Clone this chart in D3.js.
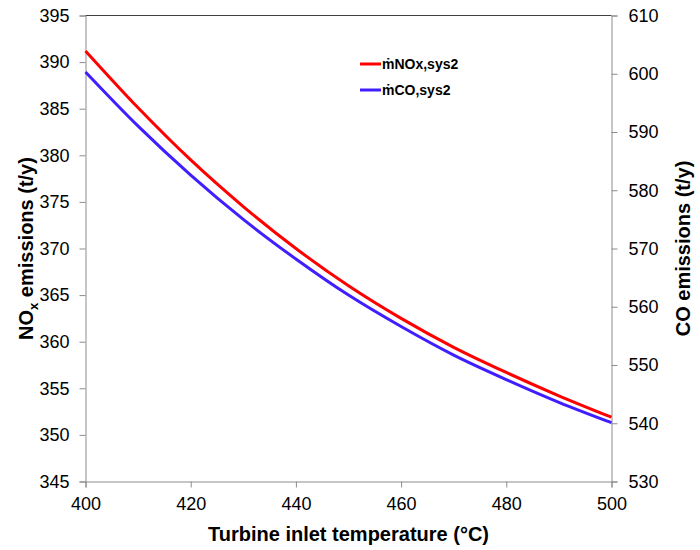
<!DOCTYPE html>
<html>
<head>
<meta charset="utf-8">
<script src="https://d3js.org/d3.v7.min.js"></script>
<style>
body { margin: 0; background: #fff; }
svg text { font-family: "Liberation Sans", Arial, sans-serif; fill: #000; }
</style>
</head>
<body>
<div id="chart"></div>
<script>
// turbine inlet temperature (°C)
var temps = [400, 410, 420, 430, 440, 450, 460, 470, 480, 490, 500];
// NOx emissions, sys2 (t/y) - left axis
var noxValues = [391.2, 385.1, 379.5, 374.5, 370.0, 366.0, 362.5, 359.4, 356.7, 354.2, 351.9];
// CO emissions, sys2 (t/y) - right axis
var coValues = [600.3, 591.0, 582.6, 575.0, 568.2, 562.0, 556.6, 551.7, 547.5, 543.6, 540.1];

var xTicks = [400, 420, 440, 460, 480, 500];
var leftTicks = [345, 350, 355, 360, 365, 370, 375, 380, 385, 390, 395];
var rightTicks = [530, 540, 550, 560, 570, 580, 590, 600, 610];

var width = 700, height = 550;
var margin = {top: 15.5, right: 88.5, bottom: 68.5, left: 85.5};

var svg = d3.select("#chart").append("svg")
    .attr("width", width)
    .attr("height", height);

var x = d3.scaleLinear().domain([400, 500]).range([margin.left, width - margin.right]);
var yL = d3.scaleLinear().domain([345, 395]).range([height - margin.bottom, margin.top]);
var yR = d3.scaleLinear().domain([530, 610]).range([height - margin.bottom, margin.top]);

var axisGrey = "#8c8c8c";

function styleAxis(g) {
  g.select(".domain").attr("stroke", axisGrey);
  g.selectAll(".tick line").attr("stroke", axisGrey);
  g.selectAll(".tick text").style("font-size", "18px");
}

// top frame line
svg.append("line")
  .attr("x1", x(400)).attr("x2", x(500))
  .attr("y1", yL(395)).attr("y2", yL(395))
  .attr("stroke", "#404040");

svg.append("g")
  .attr("transform", "translate(0," + yL(345) + ")")
  .call(d3.axisBottom(x).tickValues(xTicks).tickSizeOuter(0).tickSize(6).tickPadding(10))
  .call(styleAxis);

svg.append("g")
  .attr("transform", "translate(" + x(400) + ",0)")
  .call(d3.axisLeft(yL).tickValues(leftTicks).tickSizeOuter(0).tickSize(6).tickPadding(10))
  .call(styleAxis);

svg.append("g")
  .attr("transform", "translate(" + x(500) + ",0)")
  .call(d3.axisRight(yR).tickValues(rightTicks).tickSizeOuter(0).tickSize(6).tickPadding(11))
  .call(styleAxis);

// lines
var noxLine = d3.line()
  .x(function(d, i) { return x(temps[i]); })
  .y(function(d) { return yL(d); })
  .curve(d3.curveMonotoneX);
var coLine = d3.line()
  .x(function(d, i) { return x(temps[i]); })
  .y(function(d) { return yR(d); })
  .curve(d3.curveMonotoneX);

svg.append("path").datum(coValues)
  .attr("d", coLine)
  .attr("fill", "none")
  .attr("stroke", "#3f1fff")
  .attr("stroke-width", 3);

svg.append("path").datum(noxValues)
  .attr("d", noxLine)
  .attr("fill", "none")
  .attr("stroke", "#ff0000")
  .attr("stroke-width", 3);

// legend
var legend = [
  {label: "ṁNOx,sys2", color: "#ff0000"},
  {label: "ṁCO,sys2", color: "#3f1fff"}
];
var lg = svg.append("g").attr("transform", "translate(360,64)");
legend.forEach(function(d, i) {
  lg.append("line")
    .attr("x1", 0).attr("x2", 21)
    .attr("y1", i * 26).attr("y2", i * 26)
    .attr("stroke", d.color)
    .attr("stroke-width", 3);
  lg.append("text")
    .attr("x", 22).attr("y", i * 26 + 5)
    .style("font-size", "14px")
    .style("font-weight", "bold")
    .text(d.label);
});

// axis titles
svg.append("text")
  .attr("x", (x(400) + x(500)) / 2)
  .attr("y", 541)
  .attr("text-anchor", "middle")
  .style("font-size", "20px")
  .style("font-weight", "bold")
  .text("Turbine inlet temperature (°C)");

var lt = svg.append("text")
  .attr("transform", "translate(33," + (yL(345) + yL(395)) / 2 + ") rotate(-90)")
  .attr("text-anchor", "middle")
  .style("font-size", "20px")
  .style("font-weight", "bold");
lt.append("tspan").text("NO");
lt.append("tspan").attr("dy", 5).style("font-size", "13px").text("x");
lt.append("tspan").attr("dy", -5).text("\u00a0emissions (t/y)");

svg.append("text")
  .attr("transform", "translate(690," + (yR(530) + yR(610)) / 2 + ") rotate(-90)")
  .attr("text-anchor", "middle")
  .style("font-size", "20px")
  .style("font-weight", "bold")
  .text("CO emissions (t/y)");
</script>
</body>
</html>
